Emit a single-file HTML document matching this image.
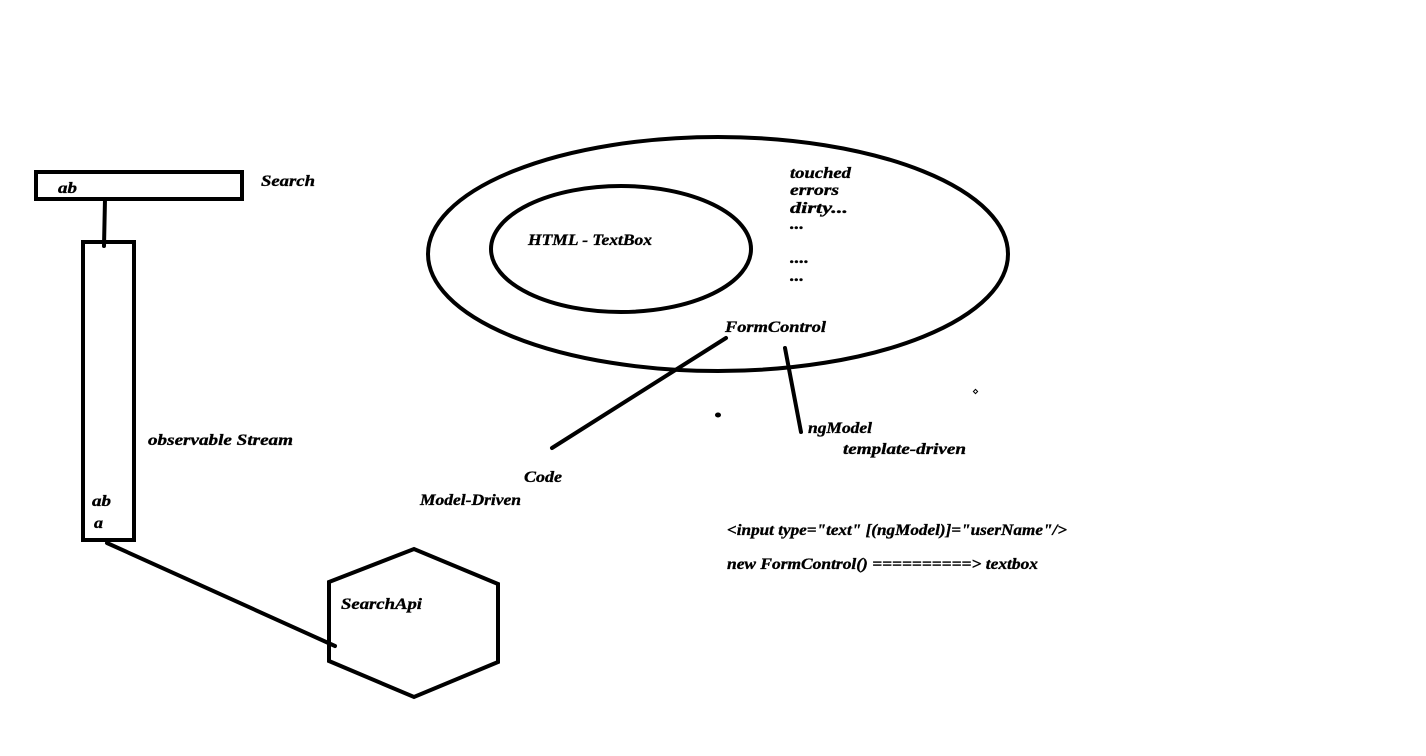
<!DOCTYPE html>
<html><head><meta charset="utf-8"><style>
html,body{margin:0;padding:0;background:#fff;}
svg{display:block;}
text{font-family:"Liberation Serif",serif;font-weight:bold;font-style:italic;font-size:16px;fill:#000;stroke:#000;stroke-width:0.35;}
</style></head><body>
<svg width="1426" height="756" viewBox="0 0 1426 756" xmlns="http://www.w3.org/2000/svg">
<g fill="none" stroke="#000" stroke-width="4" stroke-linecap="round">
<rect x="36" y="172" width="206" height="27"/>
<line x1="105" y1="199" x2="104" y2="246"/>
<rect x="83" y="242" width="51" height="298"/>
<line x1="107" y1="543" x2="335" y2="646"/>
<polygon points="329,582 414,549 498,584 498,662 414,697 329,661"/>
<ellipse cx="718" cy="254" rx="290" ry="117"/>
<ellipse cx="621" cy="249" rx="130" ry="63"/>
<line x1="726" y1="338" x2="552" y2="448"/>
<line x1="785" y1="348" x2="801" y2="432"/>
</g>
<ellipse cx="718" cy="415" rx="3" ry="2.5" fill="#000"/>
<rect x="974" y="390" width="3" height="3" fill="none" stroke="#000" stroke-width="1" transform="rotate(45 975.5 391.5)"/>
<text x="58" y="193" textLength="19" lengthAdjust="spacingAndGlyphs">ab</text>
<text x="261" y="186" textLength="54" lengthAdjust="spacingAndGlyphs">Search</text>
<text x="148" y="445" textLength="145" lengthAdjust="spacingAndGlyphs">observable Stream</text>
<text x="92" y="506" textLength="19" lengthAdjust="spacingAndGlyphs">ab</text>
<text x="94" y="528" textLength="9" lengthAdjust="spacingAndGlyphs">a</text>
<text x="341" y="609" textLength="81" lengthAdjust="spacingAndGlyphs">SearchApi</text>
<text x="528" y="245" textLength="124" lengthAdjust="spacingAndGlyphs">HTML - TextBox</text>
<text x="790" y="178" textLength="61" lengthAdjust="spacingAndGlyphs">touched</text>
<text x="790" y="195" textLength="49" lengthAdjust="spacingAndGlyphs">errors</text>
<text x="790" y="213" textLength="58" lengthAdjust="spacingAndGlyphs">dirty...</text>
<text x="790" y="229" textLength="14" lengthAdjust="spacingAndGlyphs">...</text>
<text x="790" y="263" textLength="19" lengthAdjust="spacingAndGlyphs">....</text>
<text x="790" y="281" textLength="14" lengthAdjust="spacingAndGlyphs">...</text>
<text x="725" y="332" textLength="101" lengthAdjust="spacingAndGlyphs">FormControl</text>
<text x="808" y="433" textLength="64" lengthAdjust="spacingAndGlyphs">ngModel</text>
<text x="843" y="454" textLength="123" lengthAdjust="spacingAndGlyphs">template-driven</text>
<text x="524" y="482" textLength="38" lengthAdjust="spacingAndGlyphs">Code</text>
<text x="420" y="505" textLength="101" lengthAdjust="spacingAndGlyphs">Model-Driven</text>
<text x="727" y="535" textLength="340" lengthAdjust="spacingAndGlyphs">&lt;input type="text" [(ngModel)]="userName"/&gt;</text>
<text x="727" y="569" textLength="311" lengthAdjust="spacingAndGlyphs">new FormControl() ==========&gt; textbox</text>
</svg>
</body></html>
